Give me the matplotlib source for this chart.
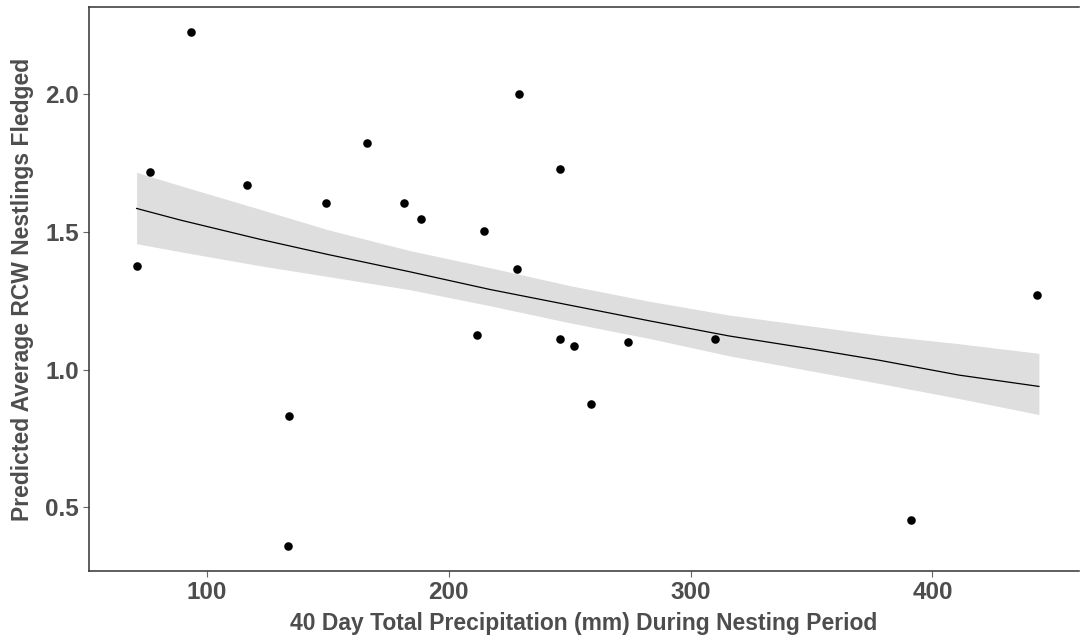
import matplotlib
matplotlib.use("Agg")
import matplotlib.pyplot as plt
import numpy as np

# observed points: 40-day precipitation (mm) vs predicted avg nestlings fledged
precip = [71.0, 76.6, 93.3, 116.5, 149.4, 134.0, 133.6, 229.1, 166.2, 245.9,
          181.6, 188.5, 214.6, 228.1, 211.8, 245.9, 251.9, 274.2, 259.0, 443.2,
          310.2, 391.1]
fledged = [1.377, 1.717, 2.226, 1.670, 1.604, 0.831, 0.360, 2.000, 1.822, 1.730,
           1.604, 1.546, 1.504, 1.365, 1.125, 1.111, 1.085, 1.102, 0.876, 1.272,
           1.111, 0.453]

# fitted trend and confidence band
fit_x = [71, 89, 122, 150, 184, 217, 250, 283, 316, 350, 378, 411, 444]
fit_y = [1.585, 1.543, 1.473, 1.418, 1.355, 1.291, 1.234, 1.177, 1.122, 1.075, 1.034, 0.980, 0.939]
fit_hi = [1.716, 1.668, 1.582, 1.508, 1.432, 1.370, 1.305, 1.248, 1.198, 1.158, 1.125, 1.094, 1.059]
fit_lo = [1.457, 1.428, 1.377, 1.338, 1.290, 1.232, 1.170, 1.113, 1.050, 0.995, 0.950, 0.895, 0.837]

x_ticks = [100, 200, 300, 400]
y_ticks = [0.5, 1.0, 1.5, 2.0]

plt.rcParams['font.family'] = ['Liberation Sans', 'DejaVu Sans']

fig = plt.figure(figsize=(10.81, 6.42), dpi=100)
ax = fig.add_axes([0.0823, 0.1106, 0.9157, 0.8784])

ax.fill_between(fit_x, fit_lo, fit_hi, color='#dedede', lw=0, zorder=1)
ax.plot(fit_x, fit_y, color='black', lw=0.9, zorder=2)
ax.scatter(precip, fledged, s=38, color='black', zorder=3, linewidths=0)

ax.set_xlim(51.3, 460.5)
ax.set_ylim(0.269, 2.316)
ax.set_xticks(x_ticks)
ax.set_yticks(y_ticks)
ax.set_yticklabels(['%.1f' % v for v in y_ticks])

ax.tick_params(axis='both', length=4, width=0.8, color='#666666',
               labelsize=17.5, labelcolor='#4d4d4d', pad=3)
for lab in ax.get_xticklabels() + ax.get_yticklabels():
    lab.set_fontweight('bold')

for side in ['left', 'bottom', 'top']:
    ax.spines[side].set_color('#333333')
    ax.spines[side].set_linewidth(1.1)
ax.spines['right'].set_visible(False)

ax.set_xlabel('40 Day Total Precipitation (mm) During Nesting Period',
              fontsize=16.5, fontweight='bold', color='#4d4d4d', labelpad=6)
ax.set_ylabel('Predicted Average RCW Nestlings Fledged',
              fontsize=16.5, fontweight='bold', color='#4d4d4d', labelpad=8)

plt.savefig('out.png', dpi=100, facecolor='white')
